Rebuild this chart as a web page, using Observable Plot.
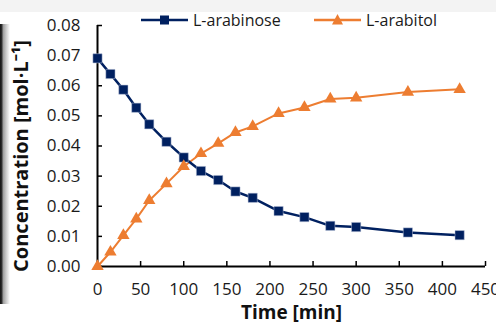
<!DOCTYPE html>
<html>
<head>
<meta charset="utf-8">
<script src="https://cdn.jsdelivr.net/npm/d3@7"></script>
<script src="https://cdn.jsdelivr.net/npm/@observablehq/plot@0.6"></script>
<style>
  html, body { margin: 0; padding: 0; background: #fff; }
  #wrap { position: relative; width: 496px; height: 324px; overflow: hidden; font-family: "Open Sans", sans-serif; }
  #band { position: absolute; left: 0; top: 0; width: 496px; height: 12px; background: #f3f3f3; }
  #strip { position: absolute; left: 0; top: 24px; width: 10px; height: 280px;
    background: linear-gradient(to right, #111 0px, #333 2px, #9a9a9a 3px, #c8c8c8 6px, #fff 10px); }
  #chart { position: absolute; left: 0; top: 12px; }
  #legend { position: absolute; top: 9px; left: 0; font-size: 16px; color: #1a1a1a; }
  .li { position: absolute; top: 0; display: flex; align-items: center; white-space: nowrap; }
  .li svg { margin-right: 5px; }
  #chart g[aria-label="x-axis tick label"], #chart g[aria-label="y-axis tick label"],
  #chart g[aria-label="x-axis tick label"] text, #chart g[aria-label="y-axis tick label"] text {
    font-size: 17px !important; font-family: "Open Sans", sans-serif !important; fill: #1a1a1a;
  }
</style>
</head>
<body>
<div id="wrap">
  <div id="band"></div>
  <div id="strip"></div>
  <div id="chart"></div>
  <div id="legend"></div>
</div>
<script>
const times = [0, 15, 30, 45, 60, 80, 100, 120, 140, 160, 180, 210, 240, 270, 300, 360, 420];
const arabinose = [0.0691, 0.0639, 0.0587, 0.0527, 0.0472, 0.0414, 0.0362, 0.0317, 0.0287, 0.0249, 0.0228, 0.0184, 0.0164, 0.0135, 0.0131, 0.0113, 0.0104];
const arabitol = [0.0000, 0.0048, 0.0103, 0.0158, 0.0219, 0.0275, 0.0332, 0.0375, 0.0409, 0.0445, 0.0465, 0.0508, 0.0528, 0.0556, 0.0560, 0.0579, 0.0588];
const seriesNames = ["L-arabinose", "L-arabitol"];
const seriesColors = ["#002060", "#ED7D31"];
const xTicks = [0, 50, 100, 150, 200, 250, 300, 350, 400, 450];
const yTicks = [0, 0.01, 0.02, 0.03, 0.04, 0.05, 0.06, 0.07, 0.08];
const xTitle = "Time [min]";
const yTitle = "Concentration [mol·L⁻¹]";

const dataA = times.map((t, i) => ({t, v: arabinose[i]}));
const dataB = times.map((t, i) => ({t, v: arabitol[i]}));

const plot = Plot.plot({
  width: 496,
  height: 312,
  marginLeft: 97,
  marginRight: 11,
  marginTop: 13,
  marginBottom: 58,
  style: {fontFamily: "Open Sans, sans-serif", fontSize: "17px", color: "#1a1a1a", background: "transparent", overflow: "visible"},
  x: {domain: [0, 450]},
  y: {domain: [0, 0.08]},
  marks: [
    Plot.axisX({ticks: xTicks, tickSize: -5, tickPadding: 21, tickFormat: d => String(d), label: null, fontSize: 17, stroke: "#000", strokeWidth: 1.5}),
    Plot.axisY({ticks: yTicks, tickSize: -5, tickPadding: 22, tickFormat: d3.format(".2f"), label: null, fontSize: 17, stroke: "#000", strokeWidth: 1.5}),
    Plot.text([xTitle], {frameAnchor: "bottom", dy: 46, lineAnchor: "middle", textAnchor: "middle", fontSize: 19, fontWeight: "bold", fill: "#111"}),
    Plot.text([yTitle], {frameAnchor: "left", dx: -76, dy: 10, rotate: -90, lineAnchor: "middle", textAnchor: "middle", fontSize: 20, fontWeight: "bold", fill: "#111"}),
    Plot.ruleX([0], {stroke: "#000", strokeWidth: 2}),
    Plot.ruleY([0], {stroke: "#000", strokeWidth: 2}),
    Plot.line(dataB, {x: "t", y: "v", stroke: seriesColors[1], strokeWidth: 2}),
    Plot.line(dataA, {x: "t", y: "v", stroke: seriesColors[0], strokeWidth: 2.5}),
    Plot.dot(dataA, {x: "t", y: "v", symbol: "square", r: 5.2, fill: seriesColors[0], stroke: "#b8c3d8", strokeWidth: 0.5}),
    Plot.dot(dataB, {x: "t", y: "v", symbol: "triangle", r: 4.6, fill: seriesColors[1], stroke: "none"})
  ]
});
document.getElementById("chart").appendChild(plot);

// legend
const legend = document.getElementById("legend");
const legendX = [141, 314];
seriesNames.forEach((name, i) => {
  const item = document.createElement("div");
  item.className = "li";
  item.style.left = legendX[i] + "px";
  const sym = i === 0
    ? `<rect x="19" y="5.5" width="9" height="9" fill="${seriesColors[0]}"/>`
    : `<path d="M23.5,4 L29,14.5 L18,14.5 Z" fill="${seriesColors[1]}"/>`;
  item.innerHTML = `<svg width="47" height="20"><line x1="0" y1="10" x2="47" y2="10" stroke="${seriesColors[i]}" stroke-width="2.5"/>${sym}</svg><span>${name}</span>`;
  legend.appendChild(item);
});
</script>
</body>
</html>
